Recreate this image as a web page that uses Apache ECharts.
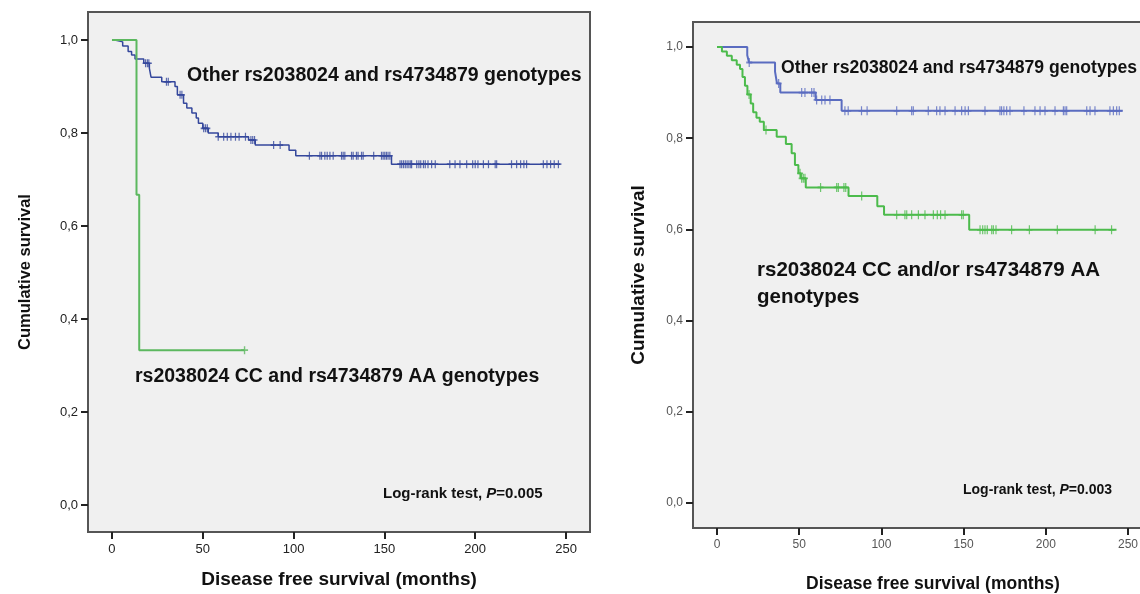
<!DOCTYPE html>
<html>
<head>
<meta charset="utf-8">
<script src="https://cdn.jsdelivr.net/npm/echarts@6/dist/echarts.min.js"></script>
<style>
  html, body { margin: 0; padding: 0; background: #fff; }
  #chart { width: 1140px; height: 594px; }
</style>
</head>
<body>
<div id="chart"></div>
<script>
// ---- data: Kaplan-Meier steps [month, survival] and censor times ----
const xTicks = [0, 50, 100, 150, 200, 250];
const yTicks = [0, 0.2, 0.4, 0.6, 0.8, 1.0];

// left panel
const leftOtherSteps = [
  [0, 1.0], [1.6, 0.996], [5.9, 0.987], [8.9, 0.975], [10.8, 0.968], [12.7, 0.959],
  [17.5, 0.950], [20.6, 0.939], [21.5, 0.920], [27.4, 0.910], [34.7, 0.900], [36, 0.882],
  [39.4, 0.864], [41.2, 0.854], [44, 0.843], [46.4, 0.832], [47.6, 0.821], [50, 0.810],
  [53, 0.800], [58.5, 0.792], [75.2, 0.785], [78.9, 0.774], [97.5, 0.763], [101.2, 0.751],
  [153.9, 0.733], [246.7, 0.733]
];
const leftOtherCensored = [
  18.5, 19.5, 20.3, 30, 31, 37.5, 38.5, 50.5, 51.5, 52.5, 58.5, 61.5, 63.5, 65.5, 68, 70,
  73.5, 76.5, 77.5, 78.5, 89, 92.6, 108.7, 114.5, 115.4, 117.2, 118.5, 120, 121.8, 126.4,
  127.3, 128.2, 131.9, 132.8, 134.6, 135.5, 137.4, 138.3, 144.1, 148.4, 149.3, 150.2, 151.1,
  152, 153, 158.6, 159.5, 160.5, 161.5, 162.5, 163.5, 164.5, 165, 167.8, 169, 170, 171.5,
  172.5, 174, 176, 178, 186, 188.9, 191.6, 195.3, 198.6, 200, 201.5, 204.5, 207.3, 211,
  211.8, 220, 222.8, 225, 226.8, 228.3, 237.5, 239.5, 241.5, 243.5, 245.8
];
const leftCCSteps = [[0, 1.0], [13.5, 0.667], [15, 0.333], [73, 0.333]];
const leftCCCensored = [73];

// right panel
const rightOtherSteps = [
  [0, 1.0], [18.4, 0.982], [19.5, 0.966], [35.3, 0.946], [36.5, 0.920], [38.5, 0.900],
  [60, 0.884], [75.8, 0.860], [246.8, 0.860]
];
const rightOtherCensored = [
  19.6, 37.5, 51.5, 53.5, 57.6, 59, 60.6, 63.7, 65.7, 68.7, 77.8, 79.8, 87.9, 91.3, 109.3,
  118.4, 119.4, 128.5, 133.6, 135.6, 138.7, 144.8, 148.8, 150.9, 152.9, 163, 172.1, 173.1,
  174.5, 176.2, 178.2, 186.7, 193.4, 196.5, 199.5, 205.6, 210.7, 211.7, 212.7, 224.9, 226.9,
  229.9, 239, 241.1, 243.1, 244.7
];
const rightCCSteps = [
  [0, 1.0], [3, 0.99], [6, 0.981], [9, 0.971], [12, 0.961], [14, 0.952], [15.5, 0.934],
  [17, 0.915], [18.5, 0.896], [20.5, 0.876], [22, 0.857], [24, 0.845], [26, 0.836],
  [28.5, 0.818], [36.3, 0.803], [41.9, 0.787], [45.4, 0.767], [47.4, 0.741], [49.5, 0.723],
  [51, 0.712], [54, 0.692], [80, 0.673], [97.5, 0.651], [101.6, 0.632], [153.4, 0.599],
  [243, 0.599]
];
const rightCCCensored = [
  19.5, 29.8, 50.5, 51.5, 52.5, 53.5, 63, 72.8, 73.8, 77.2, 78.3, 88, 109.3, 114.3, 115.4,
  118.4, 122.5, 126.5, 131.6, 134, 136, 138.7, 148.8, 149.8, 160, 161.6, 163, 164.4, 167.1,
  168.1, 169.7, 179.2, 190, 207, 230, 240
];

// ---- helpers ----
// survival at time t read from the step table
const survAt = (steps, t) => {
  let s = steps[0][1];
  for (const [ti, si] of steps) { if (ti <= t) s = si; }
  return s;
};
const censorPoints = (steps, times) => times.map(t => [t, survAt(steps, t)]);

const FONT = '"Liberation Sans", Arial, sans-serif';
const plus = 'path://M4,0H6V4H10V6H6V10H4V6H0V4H4Z';
const fmt = v => v.toFixed(1).replace('.', ',');

const chart = echarts.init(document.getElementById('chart'), null, { renderer: 'canvas' });

// outerBoundsMode none: keep the boxes exactly where we put them
const gridStyle = {
  show: true, backgroundColor: '#f0f0f0', borderColor: '#555', borderWidth: 2,
  outerBoundsMode: 'none', containLabel: false
};

function xAxisFor(gridIndex, min, max, labelStyle, name, nameGap, nameSize, namePad) {
  return {
    type: 'value', gridIndex, min, max,
    axisLine: { show: true, onZero: false, lineStyle: { color: '#555', width: 2 } },
    axisTick: { show: true, customValues: xTicks, length: 7, lineStyle: { color: '#222', width: 2 } },
    axisLabel: Object.assign({ customValues: xTicks, margin: 11, fontFamily: FONT }, labelStyle),
    splitLine: { show: false },
    name, nameLocation: 'middle', nameGap,
    nameTextStyle: { fontFamily: FONT, fontWeight: 'bold', fontSize: nameSize, color: '#111',
      padding: namePad || 0 }
  };
}

function yAxisFor(gridIndex, min, max, labelStyle, name, nameGap, nameSize) {
  return {
    type: 'value', gridIndex, min, max,
    axisLine: { show: true, onZero: false, lineStyle: { color: '#555', width: 2 } },
    axisTick: { show: true, customValues: yTicks, length: 7, lineStyle: { color: '#222', width: 2 } },
    axisLabel: Object.assign({ customValues: yTicks, margin: 10, formatter: fmt, fontFamily: FONT }, labelStyle),
    splitLine: { show: false },
    name, nameLocation: 'middle', nameGap, nameRotate: 90,
    nameTextStyle: { fontFamily: FONT, fontWeight: 'bold', fontSize: nameSize, color: '#111' }
  };
}

function kmLine(idx, steps, color, width) {
  return {
    type: 'line', xAxisIndex: idx, yAxisIndex: idx, step: 'end', data: steps,
    showSymbol: false, symbol: 'none', lineStyle: { color, width }, z: 3, silent: true
  };
}

function kmCensor(idx, steps, times, color, size) {
  return {
    type: 'scatter', xAxisIndex: idx, yAxisIndex: idx, data: censorPoints(steps, times),
    symbol: plus, symbolSize: size, itemStyle: { color }, z: 4, silent: true
  };
}

const leftBlue = '#34479c', leftGreen = '#5cb85f';
const rightBlue = '#5a6cc0', rightGreen = '#4cbb4c';

const leftLabel = { fontSize: 13, color: '#222' };
const rightLabel = { fontSize: 12, color: '#555' };

const option = {
  animation: false,
  backgroundColor: '#fff',
  grid: [
    Object.assign({ left: 88, top: 12, width: 502, height: 520 }, gridStyle),
    // right panel runs past the picture's edge, like the cropped original
    Object.assign({ left: 693, top: 22, width: 460, height: 506 }, gridStyle)
  ],
  xAxis: [
    xAxisFor(0, -13.2, 263.2, leftLabel, 'Disease free survival (months)', 38, 19),
    xAxisFor(1, -14.6, 265.2, rightLabel, 'Disease free survival (months)', 47, 17.5, [0, 0, 0, 20])
  ],
  yAxis: [
    yAxisFor(0, -0.058, 1.0602, leftLabel, 'Cumulative survival', 54, 16.5),
    yAxisFor(1, -0.0548, 1.0548, rightLabel, 'Cumulative survival', 45, 19)
  ],
  series: [
    kmLine(0, leftOtherSteps, leftBlue, 1.5),
    kmCensor(0, leftOtherSteps, leftOtherCensored, leftBlue, [6, 8]),
    kmLine(0, leftCCSteps, leftGreen, 2),
    kmCensor(0, leftCCSteps, leftCCCensored, leftGreen, [7, 8]),
    kmLine(1, rightOtherSteps, rightBlue, 2),
    kmCensor(1, rightOtherSteps, rightOtherCensored, rightBlue, [6, 9]),
    kmLine(1, rightCCSteps, rightGreen, 2),
    kmCensor(1, rightCCSteps, rightCCCensored, rightGreen, [6, 9])
  ],
  graphic: [
    { type: 'text', x: 187, y: 76, z: 10, style: {
        text: 'Other rs2038024 and rs4734879 genotypes', font: 'bold 19.5px ' + FONT,
        fill: '#111', verticalAlign: 'middle' } },
    { type: 'text', x: 135, y: 377, z: 10, style: {
        text: 'rs2038024 CC and rs4734879 AA genotypes', font: 'bold 19.5px ' + FONT,
        fill: '#111', verticalAlign: 'middle' } },
    { type: 'text', x: 383, y: 494, z: 10, style: {
        text: 'Log-rank test, {i|P}=0.005', font: 'bold 15px ' + FONT, fill: '#111',
        verticalAlign: 'middle',
        rich: { i: { fontStyle: 'italic', fontWeight: 'bold', fontSize: 15, fontFamily: FONT } } } },
    { type: 'text', x: 781, y: 68, z: 10, style: {
        text: 'Other rs2038024 and rs4734879 genotypes', font: 'bold 17.6px ' + FONT,
        fill: '#111', verticalAlign: 'middle' } },
    { type: 'text', x: 757, y: 270, z: 10, style: {
        text: 'rs2038024 CC and/or rs4734879 AA', font: 'bold 20.5px ' + FONT,
        fill: '#111', verticalAlign: 'middle' } },
    { type: 'text', x: 757, y: 297, z: 10, style: {
        text: 'genotypes', font: 'bold 20.5px ' + FONT, fill: '#111', verticalAlign: 'middle' } },
    { type: 'text', x: 963, y: 490, z: 10, style: {
        text: 'Log-rank test, {i|P}=0.003', font: 'bold 14px ' + FONT, fill: '#111',
        verticalAlign: 'middle',
        rich: { i: { fontStyle: 'italic', fontWeight: 'bold', fontSize: 14, fontFamily: FONT } } } }
  ]
};

chart.setOption(option);
</script>
</body>
</html>
